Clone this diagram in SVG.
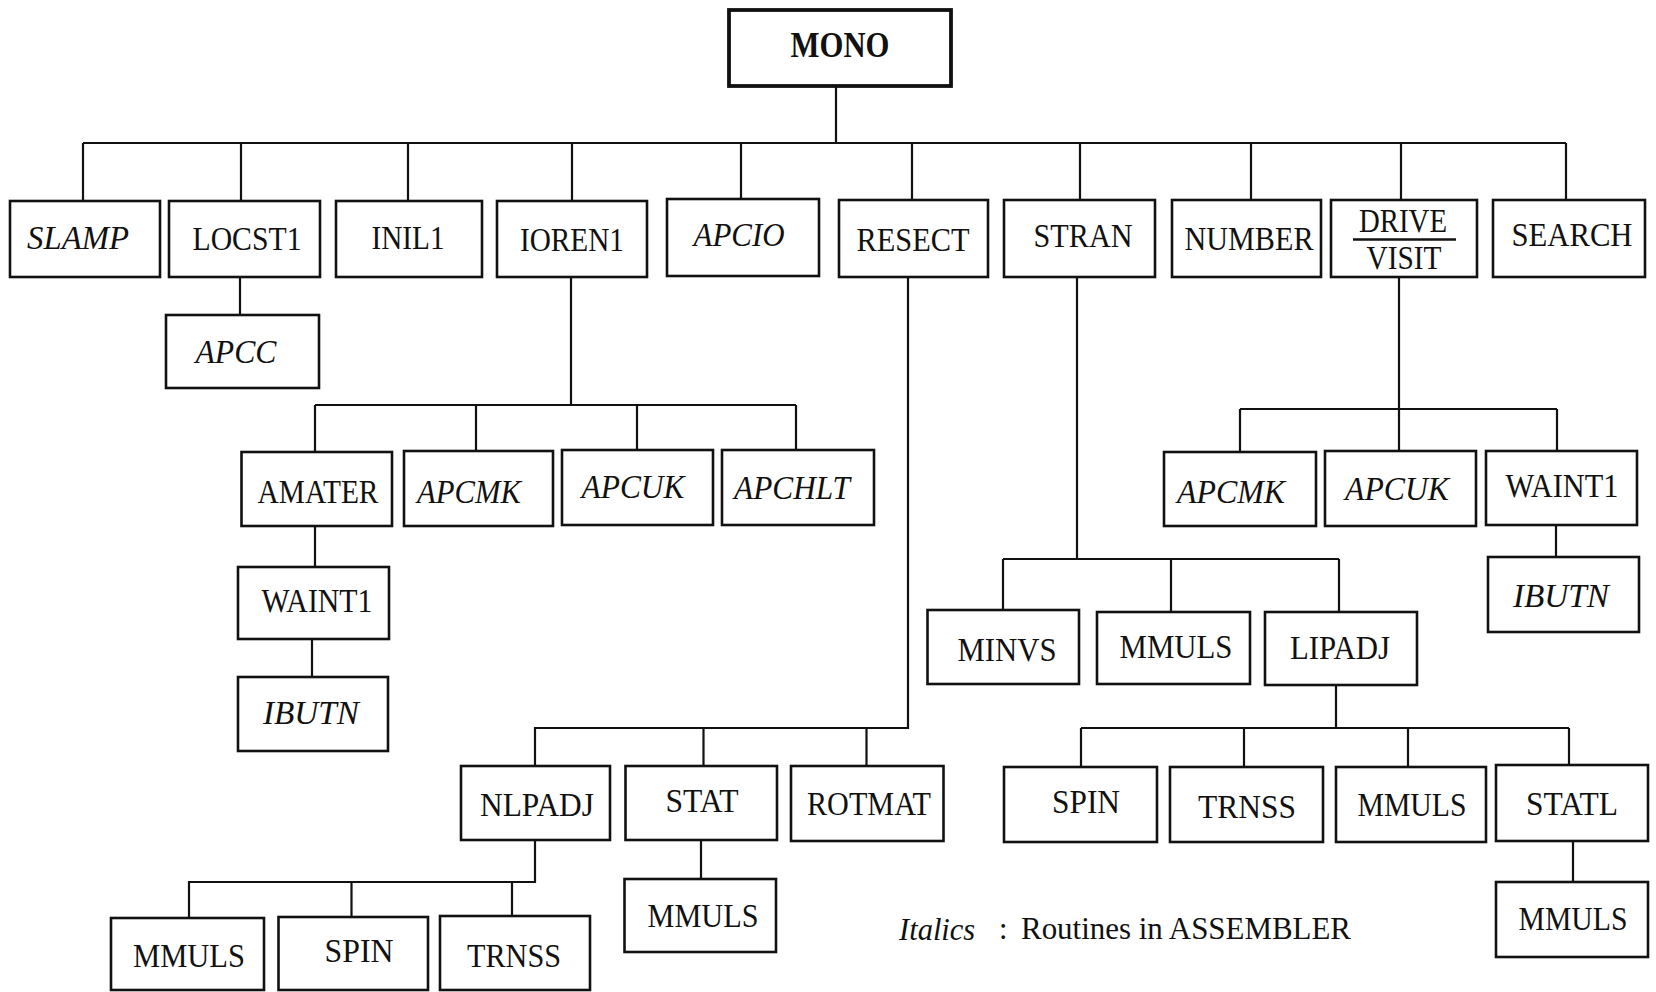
<svg xmlns="http://www.w3.org/2000/svg" width="1656" height="992" viewBox="0 0 1656 992">
  <style>
    .box { fill: #ffffff; stroke: #111111; stroke-width: 2.6; }
    .root { fill: #ffffff; stroke: #111111; stroke-width: 3.8; }
    .t { font-family: "Liberation Serif", "Times New Roman", serif; font-size: 34px; fill: #111111; text-anchor: middle; }
    .i { font-style: italic; }
    .b { font-weight: bold; font-size: 35px; }
    .lg { font-family: "Liberation Serif", "Times New Roman", serif; font-size: 30.5px; fill: #111111; }
    .wire { fill: none; stroke: #111111; stroke-width: 2.2; }
  </style>
  <rect x="0" y="0" width="1656" height="992" fill="#ffffff"/>

  <!-- connectors -->
  <g id="connectors" class="wire">
    <!-- MONO to first level -->
    <path d="M836 86 V143 M83 143 H1566"/>
    <path d="M83 143 V201 M241 143 V201 M408 143 V201 M572 143 V201 M741 143 V199 M912 143 V200 M1080 143 V200 M1251 143 V200 M1401 143 V200 M1566 143 V200"/>
    <!-- LOCST1 to APCC -->
    <path d="M240 277 V315"/>
    <!-- IOREN1 subtree -->
    <path d="M571 277 V405 M315 405 H796 M315 405 V452 M476 405 V451 M637 405 V450 M796 405 V450"/>
    <path d="M315 526 V567 M312 639 V677"/>
    <!-- RESECT subtree -->
    <path d="M908 277 V728 H535 V766 M703.5 728 V766 M866.5 728 V766"/>
    <path d="M535 840 V882 H189 V918 M351.5 882 V917 M512 882 V916"/>
    <path d="M701 840 V879"/>
    <!-- STRAN subtree -->
    <path d="M1077 277 V559 M1003 559 H1339 M1003 559 V610 M1171 559 V612 M1339 559 V612"/>
    <path d="M1336 685 V728 M1081 728 H1569 M1081 728 V767 M1244 728 V767 M1408 728 V767 M1569 728 V765"/>
    <path d="M1573 841 V882"/>
    <!-- DRIVE / VISIT subtree -->
    <path d="M1399 277 V409 M1240 409 H1557 M1240 409 V452 M1399 409 V451 M1557 409 V451"/>
    <path d="M1556 525 V557"/>
  </g>

  <g id="n-mono"><rect class="root" x="729" y="10" width="222" height="76"/><text class="t b" x="840" y="57" textLength="99" lengthAdjust="spacingAndGlyphs">MONO</text></g>

  <g id="n-slamp"><rect class="box" x="10" y="201" width="150" height="76"/><text class="t i" x="78" y="249" textLength="102" lengthAdjust="spacingAndGlyphs">SLAMP</text></g>
  <g id="n-locst1"><rect class="box" x="169" y="201" width="151" height="76"/><text class="t" x="247" y="250" textLength="109" lengthAdjust="spacingAndGlyphs">LOCST1</text></g>
  <g id="n-inil1"><rect class="box" x="336" y="201" width="146" height="76"/><text class="t" x="408" y="249" textLength="73" lengthAdjust="spacingAndGlyphs">INIL1</text></g>
  <g id="n-ioren1"><rect class="box" x="497" y="201" width="150" height="76"/><text class="t" x="572" y="251" textLength="104" lengthAdjust="spacingAndGlyphs">IOREN1</text></g>
  <g id="n-apcio"><rect class="box" x="667" y="199" width="152" height="77"/><text class="t i" x="739" y="246" textLength="91" lengthAdjust="spacingAndGlyphs">APCIO</text></g>
  <g id="n-resect"><rect class="box" x="839" y="200" width="149" height="77"/><text class="t" x="913" y="251" textLength="113" lengthAdjust="spacingAndGlyphs">RESECT</text></g>
  <g id="n-stran"><rect class="box" x="1004" y="200" width="151" height="77"/><text class="t" x="1083" y="247" textLength="99" lengthAdjust="spacingAndGlyphs">STRAN</text></g>
  <g id="n-number"><rect class="box" x="1172" y="200" width="149" height="77"/><text class="t" x="1249" y="250" textLength="129" lengthAdjust="spacingAndGlyphs">NUMBER</text></g>
  <g id="n-drive-visit"><rect class="box" x="1331" y="200" width="146" height="77"/><text class="t" x="1403" y="232" textLength="88" lengthAdjust="spacingAndGlyphs">DRIVE</text><line x1="1353" y1="239.5" x2="1456" y2="239.5" stroke="#111111" stroke-width="2.6"/><text class="t" x="1404" y="269" textLength="75" lengthAdjust="spacingAndGlyphs">VISIT</text></g>
  <g id="n-search"><rect class="box" x="1493" y="200" width="152" height="77"/><text class="t" x="1572" y="246" textLength="121" lengthAdjust="spacingAndGlyphs">SEARCH</text></g>

  <g id="n-apcc"><rect class="box" x="166" y="315" width="153" height="73"/><text class="t i" x="236" y="363" textLength="81" lengthAdjust="spacingAndGlyphs">APCC</text></g>

  <g id="n-amater"><rect class="box" x="241.5" y="452" width="150.5" height="74"/><text class="t" x="318" y="503" textLength="121" lengthAdjust="spacingAndGlyphs">AMATER</text></g>
  <g id="n-apcmk-1"><rect class="box" x="404" y="451" width="149" height="75"/><text class="t i" x="469" y="503" textLength="104" lengthAdjust="spacingAndGlyphs">APCMK</text></g>
  <g id="n-apcuk-1"><rect class="box" x="562" y="450" width="151" height="75"/><text class="t i" x="633" y="498" textLength="103" lengthAdjust="spacingAndGlyphs">APCUK</text></g>
  <g id="n-apchlt"><rect class="box" x="722" y="450" width="152" height="75"/><text class="t i" x="792" y="499" textLength="116" lengthAdjust="spacingAndGlyphs">APCHLT</text></g>
  <g id="n-waint1-1"><rect class="box" x="238" y="567" width="151" height="72"/><text class="t" x="317" y="612" textLength="111" lengthAdjust="spacingAndGlyphs">WAINT1</text></g>
  <g id="n-ibutn-1"><rect class="box" x="238" y="677" width="150" height="74"/><text class="t i" x="311" y="724" textLength="96" lengthAdjust="spacingAndGlyphs">IBUTN</text></g>

  <g id="n-apcmk-2"><rect class="box" x="1164" y="452" width="152" height="74"/><text class="t i" x="1231" y="503" textLength="108" lengthAdjust="spacingAndGlyphs">APCMK</text></g>
  <g id="n-apcuk-2"><rect class="box" x="1325" y="451" width="151" height="75"/><text class="t i" x="1397" y="500" textLength="104" lengthAdjust="spacingAndGlyphs">APCUK</text></g>
  <g id="n-waint1-2"><rect class="box" x="1486" y="451" width="151" height="74"/><text class="t" x="1562" y="497" textLength="113" lengthAdjust="spacingAndGlyphs">WAINT1</text></g>
  <g id="n-ibutn-2"><rect class="box" x="1488" y="557" width="151" height="75"/><text class="t i" x="1561" y="607" textLength="96" lengthAdjust="spacingAndGlyphs">IBUTN</text></g>

  <g id="n-minvs"><rect class="box" x="927.5" y="610" width="151.5" height="74"/><text class="t" x="1007" y="661" textLength="99" lengthAdjust="spacingAndGlyphs">MINVS</text></g>
  <g id="n-mmuls-1"><rect class="box" x="1097" y="612" width="153" height="72"/><text class="t" x="1176" y="658" textLength="113" lengthAdjust="spacingAndGlyphs">MMULS</text></g>
  <g id="n-lipadj"><rect class="box" x="1265" y="612" width="152" height="73"/><text class="t" x="1340" y="659" textLength="100" lengthAdjust="spacingAndGlyphs">LIPADJ</text></g>

  <g id="n-nlpadj"><rect class="box" x="461" y="766" width="149" height="74"/><text class="t" x="537" y="816" textLength="114" lengthAdjust="spacingAndGlyphs">NLPADJ</text></g>
  <g id="n-stat"><rect class="box" x="625.5" y="766" width="151.5" height="74"/><text class="t" x="702" y="812" textLength="73" lengthAdjust="spacingAndGlyphs">STAT</text></g>
  <g id="n-rotmat"><rect class="box" x="791" y="766" width="152.5" height="75"/><text class="t" x="869" y="815" textLength="124" lengthAdjust="spacingAndGlyphs">ROTMAT</text></g>
  <g id="n-mmuls-2"><rect class="box" x="624.5" y="879" width="151.5" height="73"/><text class="t" x="703" y="927" textLength="111" lengthAdjust="spacingAndGlyphs">MMULS</text></g>

  <g id="n-mmuls-3"><rect class="box" x="111" y="918" width="153" height="72"/><text class="t" x="189" y="967" textLength="112" lengthAdjust="spacingAndGlyphs">MMULS</text></g>
  <g id="n-spin-1"><rect class="box" x="278.5" y="917" width="149.5" height="73"/><text class="t" x="359" y="962" textLength="69" lengthAdjust="spacingAndGlyphs">SPIN</text></g>
  <g id="n-trnss-1"><rect class="box" x="440" y="916" width="150" height="74"/><text class="t" x="514" y="967" textLength="94" lengthAdjust="spacingAndGlyphs">TRNSS</text></g>

  <g id="n-spin-2"><rect class="box" x="1004" y="767" width="153" height="75"/><text class="t" x="1086" y="813" textLength="68" lengthAdjust="spacingAndGlyphs">SPIN</text></g>
  <g id="n-trnss-2"><rect class="box" x="1170" y="767" width="153" height="75"/><text class="t" x="1247" y="818" textLength="98" lengthAdjust="spacingAndGlyphs">TRNSS</text></g>
  <g id="n-mmuls-4"><rect class="box" x="1336" y="767" width="150" height="75"/><text class="t" x="1412" y="816" textLength="109" lengthAdjust="spacingAndGlyphs">MMULS</text></g>
  <g id="n-statl"><rect class="box" x="1496" y="765" width="152" height="76"/><text class="t" x="1572" y="815" textLength="92" lengthAdjust="spacingAndGlyphs">STATL</text></g>
  <g id="n-mmuls-5"><rect class="box" x="1496" y="882" width="152" height="75"/><text class="t" x="1573" y="930" textLength="109" lengthAdjust="spacingAndGlyphs">MMULS</text></g>

  <!-- legend -->
  <g id="legend">
    <text class="lg" x="899" y="940" font-style="italic">Italics</text>
    <text class="lg" x="999" y="939">:</text>
    <text class="lg" x="1021" y="939" textLength="330" lengthAdjust="spacingAndGlyphs">Routines in ASSEMBLER</text>
  </g>
</svg>
